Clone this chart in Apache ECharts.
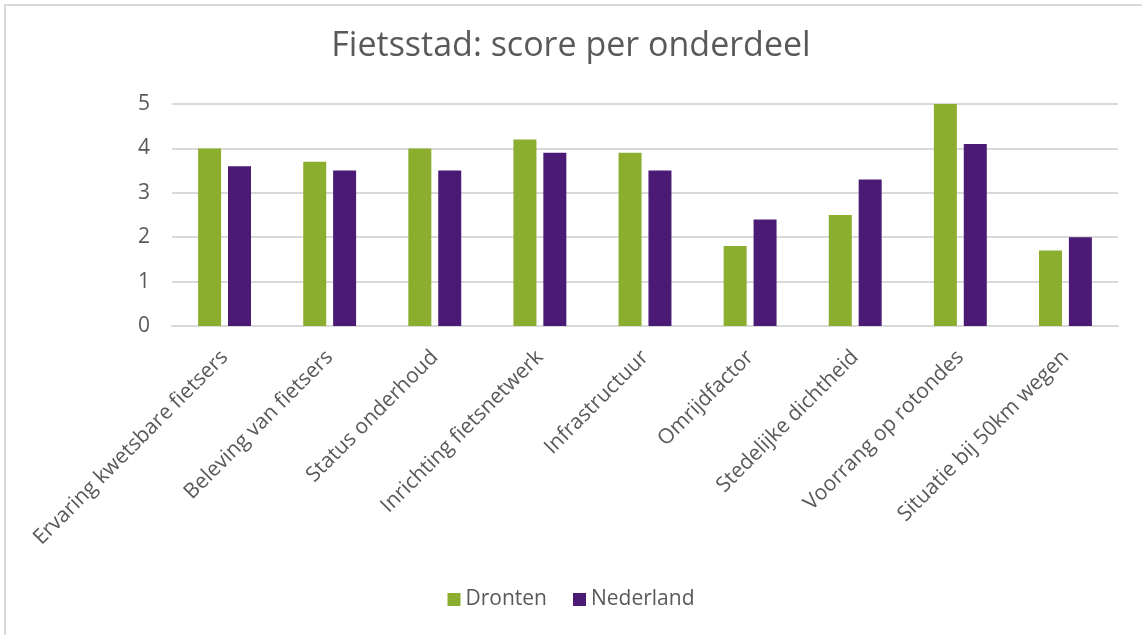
<!DOCTYPE html>
<html>
<head>
<meta charset="utf-8">
<script src="https://cdn.jsdelivr.net/npm/echarts@6/dist/echarts.min.js"></script>
<style>
html,body{margin:0;padding:0;background:#fff;overflow:hidden;}
#frame{position:absolute;left:4px;top:4px;width:1160px;height:660px;border:2px solid #d9d9d9;}
#main{position:absolute;left:0;top:0;width:1142px;height:635px;}
</style>
</head>
<body>
<div id="frame"></div>
<div id="main"></div>
<script>
// categorieen en scores
var categories = ['Ervaring kwetsbare fietsers', 'Beleving van fietsers', 'Status onderhoud',
    'Inrichting fietsnetwerk', 'Infrastructuur', 'Omrijdfactor', 'Stedelijke dichtheid',
    'Voorrang op rotondes', 'Situatie bij 50km wegen'];
var dronten = [4.0, 3.7, 4.0, 4.2, 3.9, 1.8, 2.5, 5.0, 1.7];
var nederland = [3.6, 3.5, 3.5, 3.9, 3.5, 2.4, 3.3, 4.1, 2.0];
var yTicks = [0, 1, 2, 3, 4, 5];

var font = '"Open Sans", "Liberation Sans", sans-serif';
var myChart = echarts.init(document.getElementById('main'));

var opt = {
    animation: false,
    title: {
        text: 'Fietsstad: score per onderdeel',
        left: 'center',
        top: 24,
        textStyle: {color: '#595959', fontSize: 34, fontWeight: 'normal', fontFamily: font}
    },
    legend: {
        bottom: 20,
        left: 'center',
        itemWidth: 13,
        itemHeight: 13,
        itemGap: 26,
        icon: 'rect',
        textStyle: {color: '#595959', fontSize: 21, fontFamily: font},
        data: ['Dronten', 'Nederland']
    },
    grid: {left: 172, right: 24, top: 104, bottom: 309},
    xAxis: {
        type: 'category',
        data: categories,
        axisTick: {show: false},
        axisLine: {lineStyle: {color: '#d9d9d9', width: 2}},
        axisLabel: {
            rotate: 45,
            interval: 0,
            margin: 28,
            color: '#595959',
            fontSize: 21,
            fontFamily: font
        }
    },
    yAxis: {
        type: 'value',
        min: yTicks[0],
        max: yTicks[yTicks.length - 1],
        interval: 1,
        axisLine: {show: false},
        axisTick: {show: false},
        splitLine: {lineStyle: {color: '#d9d9d9', width: 2}},
        axisLabel: {margin: 22, color: '#595959', fontSize: 21, fontFamily: font}
    },
    series: [
        {
            name: 'Dronten',
            type: 'bar',
            barWidth: 23,
            barGap: '30%',
            data: dronten,
            itemStyle: {color: '#8bae2f'}
        },
        {
            name: 'Nederland',
            type: 'bar',
            barWidth: 23,
            barGap: '30%',
            data: nederland,
            itemStyle: {color: '#4b1a74'}
        }
    ]
};

myChart.setOption(opt);
</script>
</body>
</html>
